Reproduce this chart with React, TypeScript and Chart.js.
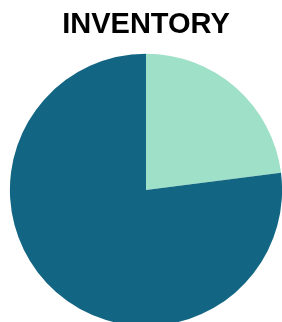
import React, { useEffect, useRef } from "react";
import { Chart, registerables } from "chart.js";

Chart.register(...registerables);

const labels = ["Available", "Used"];
const values = [23, 77];
const colors = ["#9FE0C8", "#136683"];
const title = "INVENTORY";

export default function App() {
  const ref = useRef<HTMLCanvasElement | null>(null);
  useEffect(() => {
    if (!ref.current) return;
    const chart = new Chart(ref.current, {
      type: "pie",
      data: {
        labels,
        datasets: [{ data: values, backgroundColor: colors, borderWidth: 0 }],
      },
      options: {
        responsive: false,
        animation: false,
        layout: { padding: { top: 0 } },
        plugins: {
          legend: { display: false },
          tooltip: { enabled: false },
          title: {
            display: true,
            text: title,
            color: "#000",
            font: { family: "Liberation Sans, Arial, sans-serif", size: 29, weight: "bold" },
            padding: { top: 8, bottom: 11 },
          },
        },
      },
    });
    return () => chart.destroy();
  }, []);
  return (
    <div style={{ position: "absolute", left: 0, top: 0, width: 292, height: 326 }}>
      <canvas ref={ref} width={292} height={326} style={{ display: "block" }} />
    </div>
  );
}
